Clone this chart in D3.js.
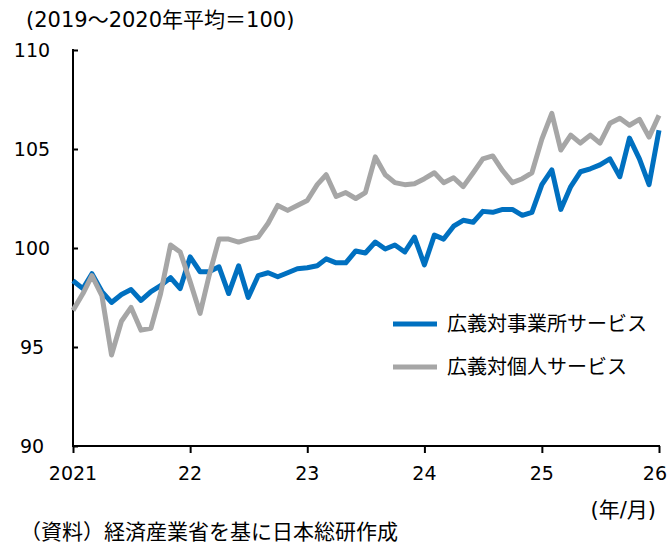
<!DOCTYPE html>
<html>
<head>
<meta charset="utf-8">
<script src="https://cdn.jsdelivr.net/npm/d3@7"></script>
<style>
  body { margin: 0; background: #fff; }
  svg { display: block; }
  text { font-family: "DejaVu Sans", "Noto Sans CJK JP", sans-serif; fill: #000; }
</style>
</head>
<body>
<svg id="chart" width="668" height="543"></svg>
<script>
var WIDTH = 668;
var HEIGHT = 543;

// monthly series, 2021/01 .. 2026/01
var startMonth = new Date(2021, 0, 1);
var seriesNames = ['広義対事業所サービス', '広義対個人サービス'];
var seriesColors = ['#0070C0', '#A6A6A6'];

var business = [
    98.35, 97.95, 98.7, 97.8, 97.25, 97.65, 97.9, 97.35, 97.8, 98.1, 98.5, 97.95,
    99.55, 98.8, 98.8, 99.05, 97.7, 99.1, 97.5, 98.6, 98.75, 98.55, 98.75, 98.95,
    99.0, 99.1, 99.45, 99.25, 99.25, 99.85, 99.75, 100.3, 99.95, 100.15, 99.8, 100.55,
    99.15, 100.65, 100.45, 101.1, 101.4, 101.3, 101.85, 101.8, 101.95, 101.95, 101.65, 101.8,
    103.2, 103.95, 101.95, 103.1, 103.85, 104.0, 104.2, 104.5, 103.6, 105.55, 104.5, 103.2,
    105.95
];
var personal = [
    96.85, 97.7, 98.6, 97.6, 94.6, 96.3, 97.0, 95.85, 95.95, 97.7, 100.15, 99.8,
    98.3, 96.7, 98.6, 100.45, 100.45, 100.3, 100.45, 100.55, 101.25, 102.15, 101.9, 102.15,
    102.4, 103.2, 103.7, 102.6, 102.8, 102.5, 102.8, 104.6, 103.7, 103.3, 103.2, 103.25,
    103.5, 103.8, 103.3, 103.55, 103.1, 103.8, 104.5, 104.65, 103.9, 103.3, 103.5, 103.8,
    105.5, 106.8, 104.95, 105.7, 105.3, 105.7, 105.3, 106.3, 106.55, 106.2, 106.5, 105.6,
    106.7
];

var yTicks = [90, 95, 100, 105, 110];
var xTickLabels = ['2021', '22', '23', '24', '25', '26'];
var unitLabel = '(2019～2020年平均＝100)';
var xUnitLabel = '(年/月)';
var sourceLabel = '（資料）経済産業省を基に日本総研作成';

var svg = d3.select('#chart');

var xScale = d3.scaleTime()
    .domain([startMonth, d3.timeMonth.offset(startMonth, business.length - 1)])
    .range([73, 659]);
var yScale = d3.scaleLinear().domain([90, 110]).range([446, 50]);

var yearTicks = xTickLabels.map(function(d, i){ return new Date(2021 + i, 0, 1); });

// axes
var leftAxis = d3.axisRight(yScale).tickValues(yTicks).tickSize(5).tickFormat('');
var bottomAxis = d3.axisBottom(xScale).tickValues(yearTicks).tickSize(7).tickFormat('');

var gy = svg.append('g').attr('transform', 'translate(73,0)').call(leftAxis);
var gx = svg.append('g').attr('transform', 'translate(0,446)').call(bottomAxis);
[gx, gy].forEach(function(g){
    g.select('.domain').attr('stroke', '#000').attr('stroke-width', 2);
    g.selectAll('.tick line').attr('stroke', '#000').attr('stroke-width', 2);
});
gx.select('.domain').attr('d', 'M72,0H660');
gy.select('.domain').attr('d', 'M0,49V447');

svg.append('g').selectAll('text').data(yTicks).enter().append('text')
    .attr('x', 32)
    .attr('y', function(d){ return yScale(d); })
    .attr('dy', '0.35em')
    .attr('text-anchor', 'middle')
    .style('font-size', '19px')
    .text(function(d){ return d; });

svg.append('g').selectAll('text').data(yearTicks).enter().append('text')
    .attr('x', function(d, i){ return i == yearTicks.length - 1 ? 667 : xScale(d); })
    .attr('y', 473)
    .attr('dy', '0.35em')
    .attr('text-anchor', function(d, i){ return i == yearTicks.length - 1 ? 'end' : 'middle'; })
    .style('font-size', '19px')
    .text(function(d, i){ return xTickLabels[i]; });

// lines
var line = d3.line()
    .x(function(d, i){ return xScale(d3.timeMonth.offset(startMonth, i)); })
    .y(function(d){ return yScale(d); });

[business, personal].forEach(function(values, k){
    svg.append('path')
        .datum(values)
        .attr('fill', 'none')
        .attr('stroke', seriesColors[k])
        .attr('stroke-width', 5)
        .attr('stroke-linejoin', 'round')
        .attr('d', line);
});

// legend
seriesNames.forEach(function(name, k){
    var ly = 324 + k * 43;
    svg.append('line')
        .attr('x1', 393).attr('x2', 437)
        .attr('y1', ly).attr('y2', ly)
        .attr('stroke', seriesColors[k])
        .attr('stroke-width', 5);
    svg.append('text')
        .attr('x', 447).attr('y', ly)
        .attr('dy', '0.35em')
        .style('font-size', '20px')
        .text(name);
});

svg.append('text').attr('x', 26).attr('y', 20).attr('dy', '0.35em')
    .style('font-size', '21px').text(unitLabel);
svg.append('text').attr('x', 656).attr('y', 510).attr('dy', '0.35em')
    .attr('text-anchor', 'end').style('font-size', '21px').text(xUnitLabel);
svg.append('text').attr('x', 20).attr('y', 532).attr('dy', '0.35em')
    .style('font-size', '21px').text(sourceLabel);
</script>
</body>
</html>
